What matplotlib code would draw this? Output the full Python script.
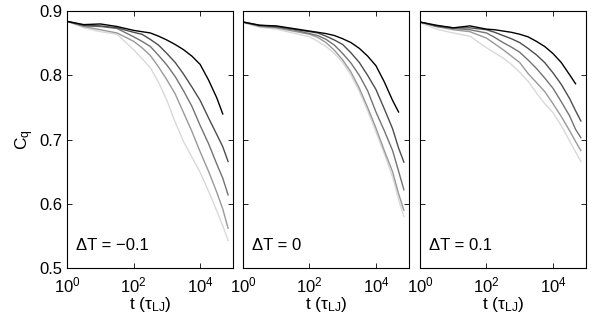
import numpy as np
import matplotlib
matplotlib.use("Agg")
from matplotlib import pyplot as plt

plt.rcParams['font.family'] = ['Liberation Sans', 'DejaVu Sans']
plt.rcParams['mathtext.default'] = 'regular'

# log10 of time, common grid for all curves (the darkest curve stops earlier)
log_t = [0, 0.5, 1.0, 1.5, 2.0, 2.25, 2.5, 2.75, 3.0, 3.25, 3.5, 3.75, 4.0, 4.25, 4.5, 4.68, 4.84]

panel_labels = ["ΔT = −0.1", "ΔT = 0", "ΔT = 0.1"]
grays = ["0.0", "0.3", "0.45", "0.6", "0.85"]

# dT = -0.1
p1 = [
    [0.884, 0.879, 0.880, 0.876, 0.870, 0.868, 0.866, 0.861, 0.855, 0.848, 0.840, 0.830, 0.817, 0.793, 0.765, 0.740],
    [0.884, 0.878, 0.877, 0.874, 0.867, 0.864, 0.856, 0.847, 0.834, 0.820, 0.802, 0.782, 0.761, 0.734, 0.708, 0.689, 0.666],
    [0.884, 0.877, 0.876, 0.873, 0.860, 0.853, 0.845, 0.831, 0.816, 0.798, 0.776, 0.752, 0.722, 0.694, 0.662, 0.640, 0.614],
    [0.884, 0.876, 0.871, 0.866, 0.853, 0.843, 0.831, 0.813, 0.793, 0.771, 0.742, 0.713, 0.681, 0.651, 0.618, 0.592, 0.562],
    [0.884, 0.874, 0.868, 0.864, 0.840, 0.826, 0.812, 0.789, 0.761, 0.727, 0.697, 0.673, 0.649, 0.620, 0.589, 0.566, 0.543],
]
# dT = 0
p2 = [
    [0.883, 0.878, 0.877, 0.873, 0.869, 0.867, 0.865, 0.862, 0.857, 0.851, 0.842, 0.830, 0.815, 0.790, 0.761, 0.743],
    [0.883, 0.878, 0.876, 0.872, 0.868, 0.866, 0.861, 0.855, 0.848, 0.835, 0.820, 0.800, 0.778, 0.748, 0.717, 0.687, 0.665],
    [0.883, 0.877, 0.875, 0.871, 0.865, 0.862, 0.856, 0.847, 0.834, 0.819, 0.800, 0.776, 0.743, 0.714, 0.683, 0.651, 0.622],
    [0.883, 0.876, 0.874, 0.869, 0.864, 0.859, 0.851, 0.839, 0.824, 0.805, 0.780, 0.750, 0.718, 0.683, 0.650, 0.616, 0.590],
    [0.882, 0.875, 0.872, 0.866, 0.860, 0.853, 0.845, 0.834, 0.820, 0.800, 0.775, 0.745, 0.712, 0.678, 0.642, 0.607, 0.580],
]
# dT = 0.1
p3 = [
    [0.883, 0.878, 0.874, 0.877, 0.872, 0.871, 0.869, 0.867, 0.864, 0.860, 0.853, 0.845, 0.834, 0.820, 0.801, 0.787],
    [0.883, 0.877, 0.874, 0.874, 0.871, 0.867, 0.862, 0.857, 0.851, 0.842, 0.832, 0.820, 0.804, 0.786, 0.764, 0.745, 0.729],
    [0.883, 0.876, 0.873, 0.871, 0.866, 0.859, 0.851, 0.844, 0.836, 0.824, 0.811, 0.796, 0.780, 0.759, 0.737, 0.716, 0.703],
    [0.883, 0.876, 0.871, 0.868, 0.858, 0.849, 0.840, 0.830, 0.820, 0.803, 0.789, 0.775, 0.756, 0.736, 0.714, 0.697, 0.683],
    [0.882, 0.872, 0.866, 0.861, 0.843, 0.835, 0.827, 0.817, 0.805, 0.791, 0.773, 0.756, 0.742, 0.722, 0.698, 0.681, 0.666],
]
panels = [p1, p2, p3]

t = np.power(10.0, log_t)

fig = plt.figure(figsize=(6, 3.27), dpi=100)
lefts = [0.112, 0.405, 0.700]
width = 0.277
for i, curves in enumerate(panels):
    ax = fig.add_axes([lefts[i], 0.18, width, 0.786])
    # lightest first so darker curves sit on top
    for j in reversed(range(len(curves))):
        vals = curves[j]
        ax.plot(t[:len(vals)], vals, color=grays[j], lw=1.0)
    ax.set_xscale("log")
    ax.set_xlim(1, 1e5)
    ax.set_ylim(0.5, 0.9)
    ax.set_xticks([1, 1e2, 1e4])
    ax.set_xticklabels(["$10^0$", "$10^2$", "$10^4$"])
    ax.minorticks_off()
    ax.set_yticks([0.5, 0.6, 0.7, 0.8, 0.9])
    if i == 0:
        ax.set_yticklabels(["0.5", "0.6", "0.7", "0.8", "0.9"])
        ax.set_ylabel("C$_q$", fontsize=12.5, labelpad=2)
    else:
        ax.set_yticklabels([])
    ax.tick_params(direction="in", top=True, right=True, length=3.5, labelsize=12, width=0.6)
    ax.tick_params(axis="x", pad=5)
    for s in ax.spines.values():
        s.set_linewidth(0.8)
    ax.set_xlabel("t (τ$_{LJ}$)", fontsize=12.5, labelpad=0)
    ax.text(0.055, 0.09, panel_labels[i], transform=ax.transAxes, fontsize=12, va="center")

plt.savefig("out.png", dpi=100)
